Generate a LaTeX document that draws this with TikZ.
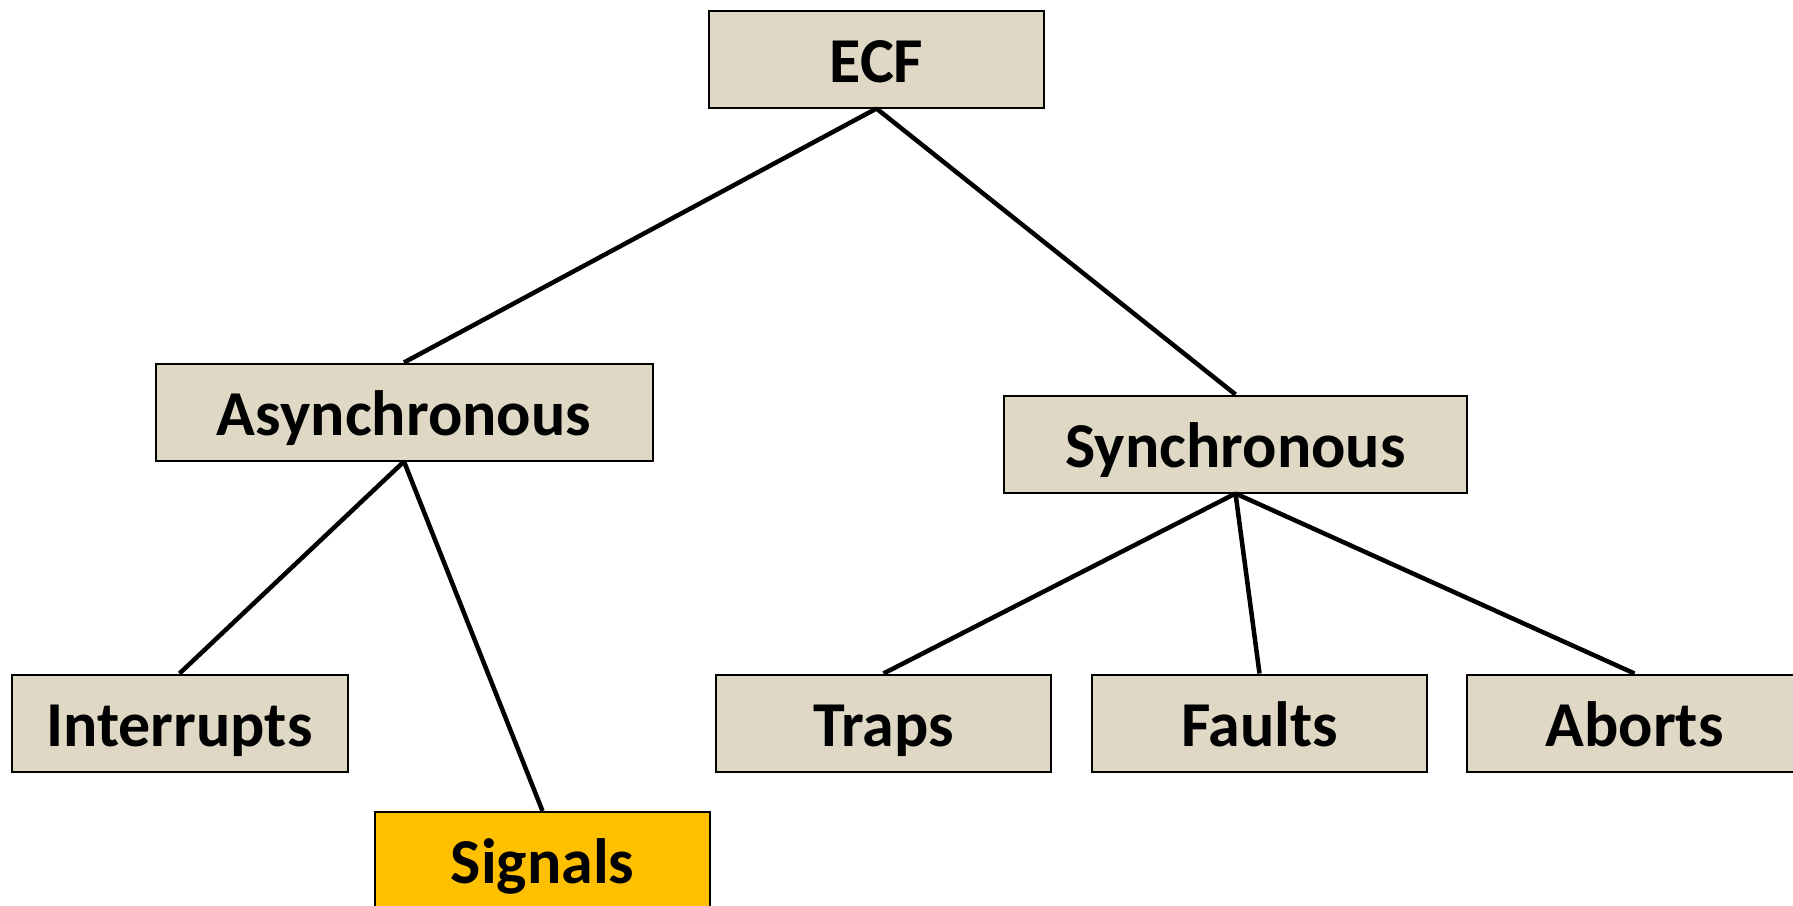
\documentclass[tikz,border=0pt]{standalone}
\usepackage{fontspec}
\setmainfont{Carlito}
\begin{document}
\begin{tikzpicture}[x=1pt,y=-1pt,
  box/.style={draw=black,line width=2pt,fill=tanbox,minimum width=335pt,minimum height=97pt,inner sep=0pt,
    text height=60pt,text depth=14pt,
    font=\fontsize{64}{70}\selectfont\bfseries},
  link/.style={draw=black,line width=4.5pt}]
\definecolor{tanbox}{HTML}{DFD8C5}
\definecolor{gold}{HTML}{FFC000}
\useasboundingbox (0,0) rectangle (1793,905);
\node[box] (ecf) at (876.5,59) {ECF};
\node[box,minimum width=497pt] (async) at (404,412) {Asynchronous};
\node[box,minimum width=463pt] (sync) at (1235.5,444) {Synchronous};
\node[box,minimum width=336pt] (intr) at (179.5,723) {Interrupts};
\node[box,fill=gold] (sig) at (542.5,860.5) {Signals};
\node[box] (traps) at (883.5,723) {Traps};
\node[box] (faults) at (1259.5,723) {Faults};
\node[box] (aborts) at (1634.5,723) {Aborts};
\draw[link] (ecf.south) -- (async.north);
\draw[link] (ecf.south) -- (sync.north);
\draw[link] (async.south) -- (intr.north);
\draw[link] (async.south) -- (sig.north);
\draw[link] (sync.south) -- (traps.north);
\draw[link] (sync.south) -- (faults.north);
\draw[link] (sync.south) -- (aborts.north);
\end{tikzpicture}
\end{document}
